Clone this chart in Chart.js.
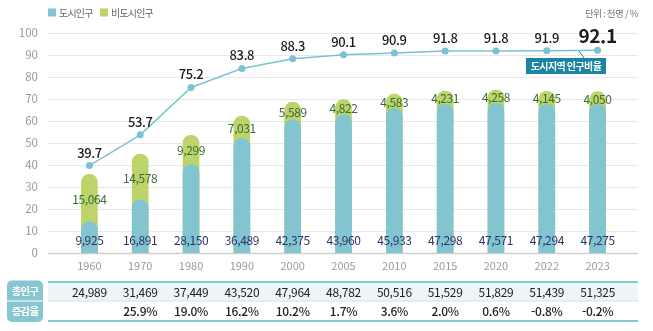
<!DOCTYPE html>
<html lang="ko">
<head>
<meta charset="utf-8">
<title>도시지역 인구비율</title>
<script src="https://cdn.jsdelivr.net/npm/chart.js@4.4.0/dist/chart.umd.min.js"></script>
<style>
    html, body { margin: 0; padding: 0; background: #fff; }
    #wrap { width: 653px; height: 331px; position: relative; }
</style>
</head>
<body>
<div id="wrap"><canvas id="popChart"></canvas></div>
<script>
const years = ['1960', '1970', '1980', '1990', '2000', '2005', '2010', '2015', '2020', '2022', '2023'];
const urbanPop = [9925, 16891, 28150, 36489, 42375, 43960, 45933, 47298, 47571, 47294, 47275];
const nonUrbanPop = [15064, 14578, 9299, 7031, 5589, 4822, 4583, 4231, 4258, 4145, 4050];
const totalPop = [24989, 31469, 37449, 43520, 47964, 48782, 50516, 51529, 51829, 51439, 51325];
const growthRate = ['', '25.9%', '19.0%', '16.2%', '10.2%', '1.7%', '3.6%', '2.0%', '0.6%', '-0.8%', '-0.2%'];
const urbanRatio = [39.7, 53.7, 75.2, 83.8, 88.3, 90.1, 90.9, 91.8, 91.8, 91.9, 92.1];
const yTicks = [0, 10, 20, 30, 40, 50, 60, 70, 80, 90, 100];

const FONT = "'Noto Sans CJK KR', 'Noto Sans', sans-serif";
const BLUE = '#82c4d0';
const GREEN = '#bcd46a';
const LINE = '#7cc3d2';
const TEAL = '#87c6d2';
const fmt = n => n.toLocaleString('en-US');

const extras = {
    id: 'extras',
    beforeDatasetsDraw(chart) {
        const ctx = chart.ctx;
        const y = chart.scales.y;
        ctx.save();
        yTicks.forEach(t => {
            const py = Math.round(y.getPixelForValue(t)) + 0.5;
            ctx.strokeStyle = t === 0 ? '#cfcfcf' : '#e8e8e8';
            ctx.lineWidth = t === 0 ? 1.5 : 1;
            ctx.beginPath();
            ctx.moveTo(48, py);
            ctx.lineTo(638, py);
            ctx.stroke();
        });
        ctx.restore();
    },
    afterDatasetsDraw(chart) {
        const ctx = chart.ctx;
        const x = chart.scales.x;
        const area = chart.chartArea;
        const lineMeta = chart.getDatasetMeta(0);
        const urbanMeta = chart.getDatasetMeta(1);
        const totalMeta = chart.getDatasetMeta(2);
        ctx.save();
        ctx.textAlign = 'center';
        ctx.textBaseline = 'middle';

        // bar labels
        ctx.font = '12px ' + FONT;
        ctx.letterSpacing = '-0.4px';
        years.forEach((yr, i) => {
            const px = x.getPixelForValue(i);
            ctx.fillStyle = '#2c3568';
            ctx.fillText(fmt(urbanPop[i]), px, area.bottom - 13);
            const mid = (urbanMeta.data[i].y + totalMeta.data[i].y) / 2;
            ctx.fillStyle = '#3d6b35';
            ctx.fillText(fmt(nonUrbanPop[i]), px, mid + 1);
        });

        // line labels
        ctx.fillStyle = '#1c1c1c';
        urbanRatio.forEach((v, i) => {
            const pt = lineMeta.data[i];
            if (i === urbanRatio.length - 1) {
                ctx.font = 'bold 19px ' + FONT;
                ctx.fillText(v.toFixed(1), pt.x, pt.y - 15);
            } else {
                ctx.font = '500 13px ' + FONT;
                ctx.fillText(v.toFixed(1), pt.x, pt.y - 13);
            }
        });

        // callout
        ctx.strokeStyle = '#1a84a2';
        ctx.lineWidth = 1;
        ctx.beginPath();
        ctx.moveTo(579, 51);
        ctx.lineTo(584, 58);
        ctx.stroke();
        ctx.fillStyle = '#1a84a2';
        ctx.fillRect(526, 58, 80, 16);
        ctx.fillStyle = '#fff';
        ctx.font = 'bold 10px ' + FONT;
        ctx.letterSpacing = '-0.6px';
        ctx.fillText('도시지역 인구비율', 566, 66.5);

        // legend
        ctx.textAlign = 'left';
        ctx.font = '10px ' + FONT;
        ctx.letterSpacing = '-0.8px';
        ctx.fillStyle = BLUE;
        ctx.fillRect(48, 8.5, 8, 8);
        ctx.fillStyle = '#666';
        ctx.fillText('도시인구', 59, 13);
        ctx.fillStyle = GREEN;
        ctx.fillRect(100, 8.5, 8, 8);
        ctx.fillStyle = '#666';
        ctx.fillText('비도시인구', 111, 13);

        // unit
        ctx.textAlign = 'right';
        ctx.font = '9.5px ' + FONT;
        ctx.letterSpacing = '-0.5px';
        ctx.fillStyle = '#777';
        ctx.fillText('단위 : 천명 / %', 638, 13);

        // table
        ctx.letterSpacing = '0px';
        ctx.fillStyle = '#ebf6f9';
        ctx.fillRect(48, 283, 590, 18);
        ctx.fillStyle = '#c9e5eb';
        ctx.fillRect(48, 300.5, 590, 1);
        ctx.fillStyle = TEAL;
        ctx.fillRect(48, 281, 590, 2);
        ctx.fillRect(48, 320, 590, 2);

        ctx.fillStyle = TEAL;
        ctx.beginPath();
        ctx.roundRect(7, 280.5, 36, 41.5, 5);
        ctx.fill();
        ctx.fillStyle = '#fff';
        ctx.fillRect(7, 300.5, 36, 1);
        ctx.textAlign = 'center';
        ctx.font = 'bold 10.5px ' + FONT;
        ctx.letterSpacing = '-0.8px';
        ctx.fillText('총인구', 25, 291);
        ctx.fillText('증감율', 25, 311.5);

        ctx.letterSpacing = '-0.3px';
        ctx.fillStyle = '#222';
        years.forEach((yr, i) => {
            const px = x.getPixelForValue(i);
            ctx.font = '12px ' + FONT;
            ctx.fillText(fmt(totalPop[i]), px, 292);
            ctx.font = '500 12px ' + FONT;
            ctx.fillText(growthRate[i], px, 311.5);
        });
        ctx.restore();
    }
};

new Chart(document.getElementById('popChart'), {
    data: {
        labels: years,
        datasets: [
            {
                type: 'line', label: '도시지역 인구비율', data: urbanRatio, yAxisID: 'y', order: 0,
                borderColor: LINE, backgroundColor: LINE, borderWidth: 1.5,
                pointRadius: 3.5, pointBorderWidth: 0, pointBackgroundColor: LINE, tension: 0
            },
            {
                type: 'bar', label: '도시인구', data: urbanPop, yAxisID: 'yBar', order: 1,
                backgroundColor: BLUE, barThickness: 16, borderRadius: 8, borderSkipped: 'start'
            },
            {
                type: 'bar', label: '비도시인구', data: totalPop, yAxisID: 'yBar', order: 2,
                backgroundColor: GREEN, barThickness: 16, borderRadius: 8, borderSkipped: 'start'
            }
        ]
    },
    options: {
        responsive: true,
        maintainAspectRatio: false,
        animation: false,
        layout: { padding: { top: 31, right: 30, left: 0, bottom: 0 } },
        plugins: { legend: { display: false }, tooltip: { enabled: false } },
        scales: {
            x: {
                stacked: true,
                offset: true,
                grid: { display: false, drawTicks: false },
                border: { display: false },
                ticks: { color: '#9a9a9a', font: { family: FONT, size: 11 }, padding: 6 },
                afterFit: s => { s.height = 78; }
            },
            y: {
                min: 0, max: 100,
                afterBuildTicks: s => { s.ticks = yTicks.map(v => ({ value: v })); },
                grid: { display: false, drawTicks: false },
                border: { display: false },
                ticks: { color: '#9a9a9a', font: { family: FONT, size: 11.5 }, padding: 26 },
                afterFit: s => { s.width = 64; }
            },
            yBar: { display: false, min: 0, max: 70000, stacked: false }
        }
    },
    plugins: [extras]
});
</script>
</body>
</html>
